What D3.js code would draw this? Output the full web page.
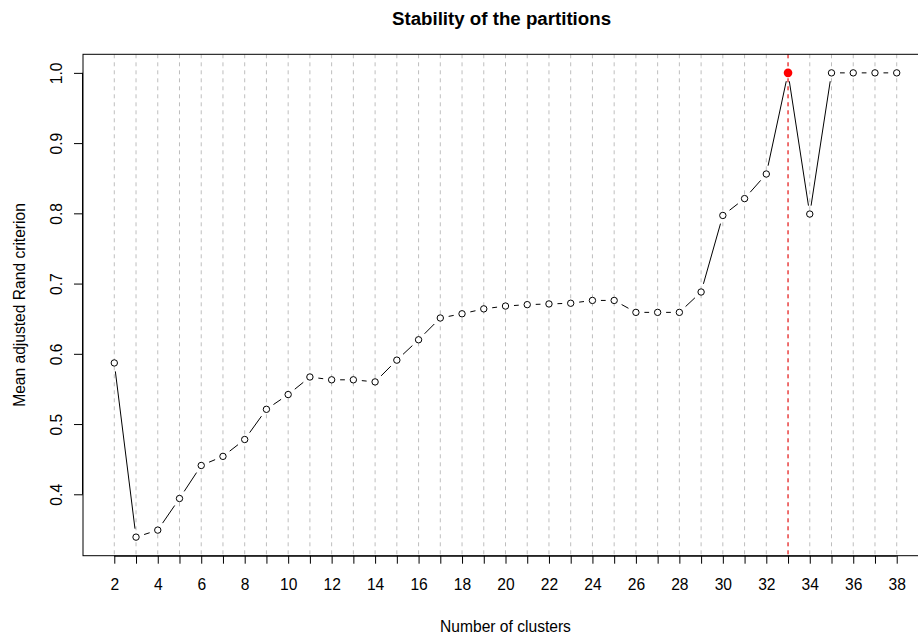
<!DOCTYPE html>
<html>
<head>
<meta charset="utf-8">
<script src="https://cdn.jsdelivr.net/npm/d3@7"></script>
<style>
  body { margin: 0; background: #fff; }
  svg { display: block; font-family: "Liberation Sans", Arial, Helvetica, sans-serif; }
</style>
</head>
<body>
<svg id="chart" width="918" height="637"></svg>
<script>
// Number of clusters tried
const clusters = d3.range(2, 39);
// Mean adjusted Rand criterion for each number of clusters
const randMeans = [
  0.587, 0.339, 0.349, 0.394, 0.441, 0.454, 0.478, 0.521, 0.542, 0.567,
  0.563, 0.563, 0.560, 0.591, 0.620, 0.651, 0.657, 0.664, 0.668, 0.670,
  0.671, 0.672, 0.676, 0.676, 0.659, 0.659, 0.659, 0.688, 0.797, 0.821,
  0.856, 1.000, 0.799, 1.000, 1.000, 1.000, 1.000
];
// Chosen (most stable) number of clusters
const bestK = 33;
const xTickLabels = d3.range(2, 39, 2);
const yTickLabels = [0.4, 0.5, 0.6, 0.7, 0.8, 0.9, 1.0];

const FONT = "Liberation Sans, Arial, sans-serif";
const LABEL_SIZE = 15.6;
const TITLE_SIZE = 18.7;

const svg = d3.select("#chart");
const plot = { left: 83, right: 928, top: 54.3, bottom: 555.7 };

// Data range padded by 4% on each side
const xPad = (38 - 2) * 0.04;
const yMin = d3.min(randMeans), yMax = d3.max(randMeans);
const yPad = (yMax - yMin) * 0.04;
const x = d3.scaleLinear().domain([2 - xPad, 38 + xPad]).range([plot.left, plot.right]);
const y = d3.scaleLinear().domain([yMin - yPad, yMax + yPad]).range([plot.bottom, plot.top]);

// Grey dashed guide at every cluster count
svg.append("g").selectAll("line").data(clusters).join("line")
  .attr("x1", d => x(d)).attr("x2", d => x(d))
  .attr("y1", plot.top).attr("y2", plot.bottom)
  .attr("stroke", "#bebebe").attr("stroke-width", 1)
  .attr("stroke-dasharray", "4,4");

// Red dashed marker at the chosen number of clusters
svg.append("line")
  .attr("x1", x(bestK)).attr("x2", x(bestK))
  .attr("y1", plot.top).attr("y2", plot.bottom)
  .attr("stroke", "#ff0000").attr("stroke-width", 1)
  .attr("stroke-dasharray", "4,4");

// Plot frame
svg.append("rect")
  .attr("x", plot.left).attr("y", plot.top)
  .attr("width", plot.right - plot.left).attr("height", plot.bottom - plot.top)
  .attr("fill", "none").attr("stroke", "#000").attr("stroke-width", 1);

// Line segments between points, with a gap around each point
const pts = clusters.map((k, i) => [x(k), y(randMeans[i])]);
const gap = 8.5;
const segs = [];
for (let i = 0; i < pts.length - 1; i++) {
  const [x0, y0] = pts[i], [x1, y1] = pts[i + 1];
  const len = Math.hypot(x1 - x0, y1 - y0);
  if (len <= 2 * gap) continue;
  const ux = (x1 - x0) / len, uy = (y1 - y0) / len;
  segs.push([x0 + ux * gap, y0 + uy * gap, x1 - ux * gap, y1 - uy * gap]);
}
svg.append("g").selectAll("line").data(segs).join("line")
  .attr("x1", d => d[0]).attr("y1", d => d[1])
  .attr("x2", d => d[2]).attr("y2", d => d[3])
  .attr("stroke", "#000").attr("stroke-width", 1);

// Open circles for each value (the chosen one is drawn separately)
svg.append("g").selectAll("circle")
  .data(clusters.map((k, i) => ({ k, v: randMeans[i] })).filter(d => d.k !== bestK))
  .join("circle")
  .attr("cx", d => x(d.k)).attr("cy", d => y(d.v))
  .attr("r", 3.2)
  .attr("fill", "#fff")
  .attr("stroke", "#000").attr("stroke-width", 1);

// Highlighted point for the chosen number of clusters
svg.append("circle")
  .attr("cx", x(bestK)).attr("cy", y(randMeans[clusters.indexOf(bestK)]))
  .attr("r", 4.3).attr("fill", "#ff0000");

// X axis: a tick at every cluster count, labels on even counts
const xAxis = d3.axisBottom(x).tickValues(clusters).tickSize(8).tickPadding(15)
  .tickFormat(d => xTickLabels.includes(d) ? d3.format("d")(d) : "");
const gx = svg.append("g").attr("transform", `translate(0,${plot.bottom})`).call(xAxis);
gx.select(".domain").attr("d", `M${x(2)},0.5H${x(38)}`).attr("stroke", "#000");
gx.selectAll(".tick line").attr("stroke", "#000");
gx.selectAll("text").attr("font-size", LABEL_SIZE).attr("fill", "#000")
  .attr("font-family", FONT);

// Y axis with rotated labels
const yAxis = d3.axisLeft(y).tickValues(yTickLabels).tickSize(9).tickFormat(d3.format(".1f"));
const gy = svg.append("g").attr("transform", `translate(${plot.left},0)`).call(yAxis);
gy.select(".domain").attr("d", `M-0.5,${y(0.4)}V${y(1.0)}`).attr("stroke", "#000");
gy.selectAll(".tick line").attr("stroke", "#000");
gy.selectAll("text").remove();
gy.selectAll(".tick").append("text")
  .attr("transform", "translate(-21,0) rotate(-90)")
  .attr("text-anchor", "middle")
  .attr("font-size", LABEL_SIZE).attr("fill", "#000")
  .attr("font-family", FONT)
  .text(d => d3.format(".1f")(d));

// Titles
svg.append("text")
  .attr("x", (plot.left + plot.right) / 2 - 4).attr("y", 25)
  .attr("text-anchor", "middle").attr("font-weight", "bold")
  .attr("font-size", TITLE_SIZE).attr("font-family", FONT)
  .text("Stability of the partitions");

svg.append("text")
  .attr("x", (plot.left + plot.right) / 2).attr("y", 632)
  .attr("text-anchor", "middle").attr("font-size", LABEL_SIZE).attr("font-family", FONT)
  .text("Number of clusters");

svg.append("text")
  .attr("transform", `translate(25,${(plot.top + plot.bottom) / 2}) rotate(-90)`)
  .attr("text-anchor", "middle").attr("font-size", LABEL_SIZE).attr("font-family", FONT)
  .text("Mean adjusted Rand criterion");
</script>
</body>
</html>
